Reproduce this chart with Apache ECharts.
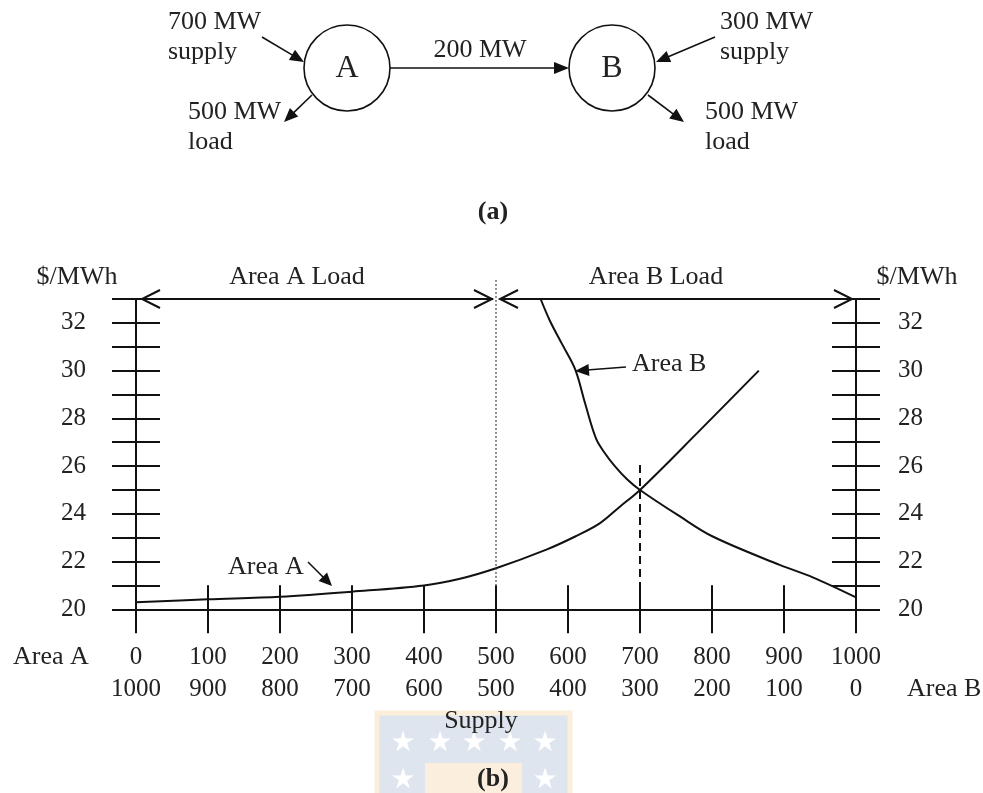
<!DOCTYPE html>
<html><head><meta charset="utf-8">
<script src="https://cdn.jsdelivr.net/npm/echarts@6/dist/echarts.min.js"></script>
<style>html,body{margin:0;padding:0;background:#fff}#c{width:983px;height:793px}</style>
</head><body><div id="c"></div>
<script>
// ---- data ----
const supplyA = [0,100,200,300,400,500,600,700,800,900,1000];
const supplyB = [1000,900,800,700,600,500,400,300,200,100,0];
const priceLabels = [20,22,24,26,28,30,32];
const areaA_mw    = [0,100,200,300,400,450,500,570,610,644,672,700,780,865];
const areaA_price = [20.3,20.42,20.53,20.74,21.0,21.28,21.72,22.5,23.05,23.6,24.3,25.0,27.4,30.0];
const areaB_mw    = [562,575,592,610,624,639,651,665,682,700,755,801,894,940,1000];
const areaB_price = [33.0,32.08,31.1,30.05,28.6,27.15,26.55,26.0,25.45,25.0,23.9,23.05,21.86,21.34,20.5];
const clearingMW = 700, clearingTop = 26.05;
const areaSplit = 500;

const FONT = '"Liberation Serif","Times New Roman",serif';
const INK = '#111';
const TXT = '#222';

const chart = echarts.init(document.getElementById('c'), null, {renderer:'canvas'});

const yBase = {type:'value', min:20, max:33, interval:1, splitLine:{show:false},
  axisLine:{show:true, onZero:false, lineStyle:{color:INK, width:2}}};
const xBase = {type:'value', min:0, max:1000, interval:100, splitLine:{show:false},
  axisLine:{show:true, onZero:false, lineStyle:{color:INK, width:2}}};
const tickStyle = {color:INK, width:2};

const option = {
  animation:false,
  backgroundColor:'#fff',
  grid:{left:136, width:720, top:299, height:310.3, containLabel:false},
  xAxis:[
    Object.assign({}, xBase, {position:'bottom',
      axisTick:{show:true, length:24, lineStyle:tickStyle},
      axisLabel:{show:true, margin:32, color:TXT, fontFamily:FONT, fontSize:25, lineHeight:32,
        formatter:(v)=>{const i=supplyA.indexOf(v); return i<0?'':supplyA[i]+'\n'+supplyB[i];}}}),
    Object.assign({}, xBase, {position:'bottom',
      axisTick:{show:true, inside:true, length:24, lineStyle:tickStyle},
      axisLabel:{show:false}})
  ],
  yAxis:[
    Object.assign({}, yBase, {position:'left',
      axisTick:{show:true, length:24, lineStyle:tickStyle},
      axisLabel:{show:true, margin:50, color:TXT, fontFamily:FONT, fontSize:25,
        formatter:(v)=>priceLabels.indexOf(v)>=0?String(v):''}}),
    Object.assign({}, yBase, {position:'left', offset:0,
      axisTick:{show:true, inside:true, length:24, lineStyle:tickStyle},
      axisLabel:{show:false}}),
    Object.assign({}, yBase, {position:'right', offset:0,
      axisTick:{show:true, length:24, lineStyle:tickStyle},
      axisLabel:{show:true, margin:42, color:TXT, fontFamily:FONT, fontSize:25,
        formatter:(v)=>priceLabels.indexOf(v)>=0?String(v):''}}),
    Object.assign({}, yBase, {position:'right', offset:0,
      axisTick:{show:true, inside:true, length:24, lineStyle:tickStyle},
      axisLabel:{show:false}})
  ],
  series:[
    {name:'Area A', type:'line', xAxisIndex:0, yAxisIndex:0, symbol:'none', silent:true,
     smooth:0.35, clip:false,
     data: areaA_mw.map((x,i)=>[x, areaA_price[i]]),
     lineStyle:{color:INK, width:2},
     markLine:{symbol:'none', silent:true, label:{show:false},
       lineStyle:{type:[8,5], color:INK, width:2},
       data:[[{coord:[clearingMW, clearingTop]},{coord:[clearingMW, 20]}]]}},
    {name:'Area B', type:'line', xAxisIndex:0, yAxisIndex:0, symbol:'none', silent:true,
     smooth:0.35, clip:false,
     data: areaB_mw.map((x,i)=>[x, areaB_price[i]]),
     lineStyle:{color:INK, width:2}}
  ]
};
chart.setOption(option);

const P = (x,y)=>chart.convertToPixel({xAxisIndex:0, yAxisIndex:0},[x,y]);
const g = [];
function text(str, x, y, opt){
  opt = opt||{};
  g.push({type:'text', z:20, x:x, y:y, style:{text:str, fill:TXT, font:(opt.bold?'bold ':'')+(opt.size||26)+'px '+FONT,
    textAlign:opt.align||'left', textVerticalAlign:'middle'}});
}
function line(x1,y1,x2,y2, w, dash, color){
  g.push({type:'line', z:15, shape:{x1,y1,x2,y2}, style:{stroke:color||INK, lineWidth:w||2, lineDash:dash||null}});
}
function arrow(x1,y1,x2,y2, len, half, w){
  len=len||14; half=half||6;
  const dx=x2-x1, dy=y2-y1, d=Math.hypot(dx,dy), ux=dx/d, uy=dy/d;
  const bx=x2-ux*len, by=y2-uy*len;
  line(x1,y1,bx+ux*2,by+uy*2,w||1.6);
  g.push({type:'polygon', z:16, shape:{points:[[x2,y2],[bx-uy*half,by+ux*half],[bx+uy*half,by-ux*half]]}, style:{fill:INK}});
}
function chevron(tx,ty,dir){ // open arrowhead, dir=+1 pointing right, -1 pointing left
  g.push({type:'polyline', z:16, shape:{points:[[tx-dir*18,ty-9],[tx,ty],[tx-dir*18,ty+9]]}, style:{stroke:INK, lineWidth:2, fill:null}});
}

// ---- watermark (background) ----
g.push({type:'rect', z:1, shape:{x:377,y:713,width:193,height:90}, style:{fill:'#dfe5ee', stroke:'#fbeedb', lineWidth:5}});
g.push({type:'rect', z:2, shape:{x:425,y:763,width:97,height:40}, style:{fill:'#fbeedd'}});
[[403,744],[440,744],[474,744],[510,744],[545,744],[403,781],[545,781]].forEach(p=>{
  g.push({type:'text', z:3, x:p[0], y:p[1], style:{text:'★', fill:'#ffffff', font:'28px "DejaVu Sans"', textAlign:'center', textVerticalAlign:'middle'}});
});

// ---- panel (a): network diagram ----
const cA=[347,68], cB=[612,68], R=43;
g.push({type:'circle', z:15, shape:{cx:cA[0],cy:cA[1],r:R}, style:{fill:'#fff', stroke:INK, lineWidth:1.6}});
g.push({type:'circle', z:15, shape:{cx:cB[0],cy:cB[1],r:R}, style:{fill:'#fff', stroke:INK, lineWidth:1.6}});
text('A', cA[0], cA[1]+1, {size:32, align:'center'});
text('B', cB[0], cB[1]+1, {size:32, align:'center'});
arrow(cA[0]+R, 68, cB[0]-R, 68, 15, 6);
text('200 MW', 480, 50, {align:'center'});
text('700 MW', 168, 22); text('supply', 168, 52);
arrow(262,37,304,62, 14, 6);
text('500 MW', 188, 112); text('load', 188, 142);
arrow(312,95,284,122, 14, 6);
text('300 MW', 720, 22); text('supply', 720, 52);
arrow(715,37,656,62, 14, 6);
text('500 MW', 705, 112); text('load', 705, 142);
arrow(648,95,684,122, 14, 6);
text('(a)', 493, 212, {bold:true, align:'center'});

// ---- panel (b) annotations ----
const pL = P(0,33), pR = P(1000,33), pM = P(areaSplit,33);
line(pL[0], pL[1], pM[0]-3, pL[1], 2);
line(pM[0]+4, pL[1], pR[0], pL[1], 2);
chevron(pL[0]+6, pL[1], -1);
chevron(pM[0]-4, pL[1], 1);
chevron(pM[0]+4, pL[1], -1);
chevron(pR[0]-4, pL[1], 1);
const dTop = P(areaSplit, 33.8), dBot = P(areaSplit, 21.0);
line(dTop[0], dTop[1], dBot[0], dBot[1], 1.2, [2,2], '#444');
text('$/MWh', 77, 277, {align:'center'});
text('$/MWh', 917, 277, {align:'center'});
text('Area A Load', (pL[0]+pM[0])/2-19, 277, {align:'center'});
text('Area B Load', (pM[0]+pR[0])/2-20, 277, {align:'center'});
text('Area A', 228, 567);
arrow(308,562,332,586, 13, 6);
text('Area B', 632, 364);
arrow(626,367,575,371, 14, 6);
text('Area A', 13, 657);
text('Area B', 907, 689);
text('Supply', 481, 721, {align:'center'});
text('(b)', 493, 779, {bold:true, align:'center'});

chart.setOption({graphic:g});
</script>
</body></html>
